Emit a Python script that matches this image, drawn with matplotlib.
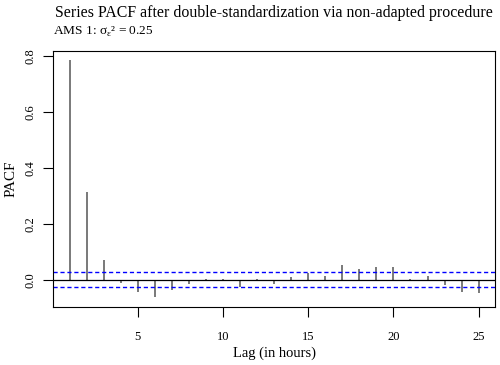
import matplotlib
matplotlib.use("Agg")
import matplotlib.pyplot as plt

lags = list(range(1, 26))
pacf = [0.785, 0.312, 0.071, -0.012, -0.045, -0.062, -0.038, -0.015, 0.002, 0.001,
        -0.027, 0.001, -0.014, 0.010, 0.024, 0.012, 0.053, 0.039, 0.046, 0.047,
        0.003, 0.014, -0.020, -0.043, -0.049]
clim = 0.026
xticks = [5, 10, 15, 20, 25]
yticks = [0.0, 0.2, 0.4, 0.6, 0.8]

plt.rcParams["font.family"] = ["Liberation Serif", "DejaVu Serif"]
plt.rcParams["mathtext.fontset"] = "custom"
plt.rcParams["mathtext.rm"] = "Liberation Serif"

fig = plt.figure(figsize=(5.0, 3.65), dpi=100)
ax = fig.add_axes([53.3 / 500, 1 - 306.5 / 365, (495 - 53.3) / 500, (306.5 - 50.5) / 365])

ax.vlines(lags, 0, pacf, color="#555555", lw=1.1)
ax.axhline(0, color="black", lw=0.9)
ax.axhline(clim, color="blue", lw=1.0, ls=(0, (3, 2)))
ax.axhline(-clim, color="blue", lw=1.0, ls=(0, (3, 2)))

lo, hi = min(pacf + [-clim]), max(pacf + [clim])
pad = 0.04 * (hi - lo)
ax.set_ylim(lo - pad, hi + pad)
ax.set_xlim(1 - 0.04 * 24, 25 + 0.04 * 24)

ax.set_xticks(xticks)
ax.set_yticks(yticks)
ax.set_yticklabels([f"{v:.1f}" for v in yticks], rotation=90, va="center")
ax.tick_params(axis="both", direction="out", length=7, width=0.8, labelsize=9, pad=11)
ax.tick_params(axis="y", pad=5)
for s in ax.spines.values():
    s.set_linewidth(0.8)

ax.set_xlabel("Lag (in hours)", fontsize=10.5, labelpad=2)
ax.set_ylabel("PACF", fontsize=10.8, labelpad=5)

fig.text((53.3 + 495) / 2 / 500, 1 - 13 / 365, "Series PACF after double-standardization via non-adapted procedure",
         ha="center", va="center", fontsize=11.4)
fig.text(53.3 / 500, 1 - 32 / 365, "AMS 1: σ$_{\\mathregular{ε}}$² = 0.25", ha="left", va="center", fontsize=9.6)

fig.savefig("out.png", dpi=100)
